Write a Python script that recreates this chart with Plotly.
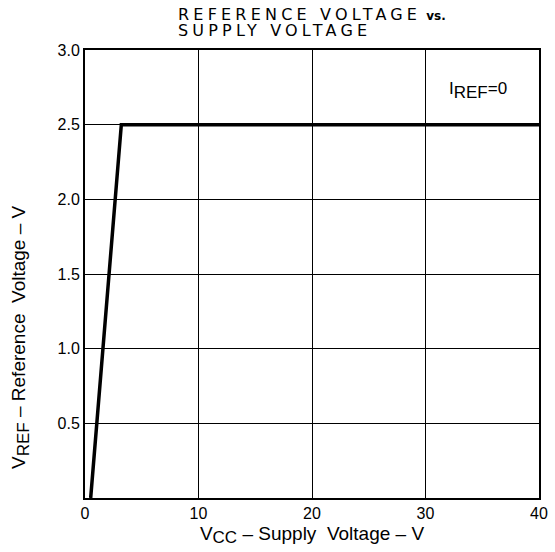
import plotly.graph_objects as go

vcc = [0.5, 3.2, 40]
vref = [0.0, 2.5, 2.5]

x_ticks = [0, 10, 20, 30, 40]
x_labels = ["0", "10", "20", "30", "40"]
y_ticks = [0.5, 1.0, 1.5, 2.0, 2.5, 3.0]
y_labels = ["0.5", "1.0", "1.5", "2.0", "2.5", "3.0"]

FONT = "Liberation Sans, Arial, sans-serif"
TFONT = "DejaVu Sans, sans-serif"
SUB = "<sub><span style='font-size:17px'>{}</span></sub>"

fig = go.Figure()
fig.add_trace(go.Scatter(x=vcc, y=vref, mode="lines",
                         line=dict(color="black", width=3.5), showlegend=False,
                         cliponaxis=False))

fig.update_layout(
    width=555, height=552,
    margin=dict(l=85, r=16, t=50, b=54),
    paper_bgcolor="white", plot_bgcolor="white",
    font=dict(family=FONT, color="black", size=16),
    xaxis=dict(range=[0, 40], tickvals=x_ticks, ticktext=x_labels,
               showgrid=True, gridcolor="black", gridwidth=1,
               showline=True, linecolor="black", linewidth=2, mirror=True,
               zeroline=False, ticks="", ticklen=0, automargin=False,
               tickfont=dict(size=16),
               title=dict(text="V" + SUB.format("CC") + " \u2013 Supply  Voltage \u2013 V",
                          font=dict(size=19), standoff=5)),
    yaxis=dict(range=[0, 3.0], tickvals=y_ticks, ticktext=y_labels,
               showgrid=True, gridcolor="black", gridwidth=1,
               showline=True, linecolor="black", linewidth=2, mirror=True,
               zeroline=False, ticks="", ticklen=0, automargin=False,
               tickfont=dict(size=16)),
    annotations=[
        dict(text="<span style='letter-spacing:4.2px'>REFERENCE VOLTAGE</span> <span style='font-size:12px'><b>vs.</b></span>",
             xref="paper", yref="paper", x=(176 - 85) / 454, y=1.0,
             xanchor="left", yanchor="bottom", yshift=24, showarrow=False,
             font=dict(family=TFONT, size=16)),
        dict(text="<span style='letter-spacing:4.2px'>SUPPLY VOLTAGE</span>",
             xref="paper", yref="paper", x=(176 - 85) / 454, y=1.0,
             xanchor="left", yanchor="bottom", yshift=8, showarrow=False,
             font=dict(family=TFONT, size=16)),
        dict(text="V" + SUB.format("REF") + " \u2013 Reference  Voltage \u2013 V",
             xref="paper", yref="paper", x=0, y=(498 - 337) / 448,
             xanchor="center", yanchor="middle", xshift=-65, textangle=-90,
             showarrow=False, font=dict(size=19)),
        dict(text="I" + SUB.format("REF") + "=0", x=34.6, y=2.73, xref="x", yref="y",
             showarrow=False, font=dict(size=17)),
    ],
)

fig.write_html("out.html", post_script="document.body.style.margin='0';",
               config={"displayModeBar": False})
